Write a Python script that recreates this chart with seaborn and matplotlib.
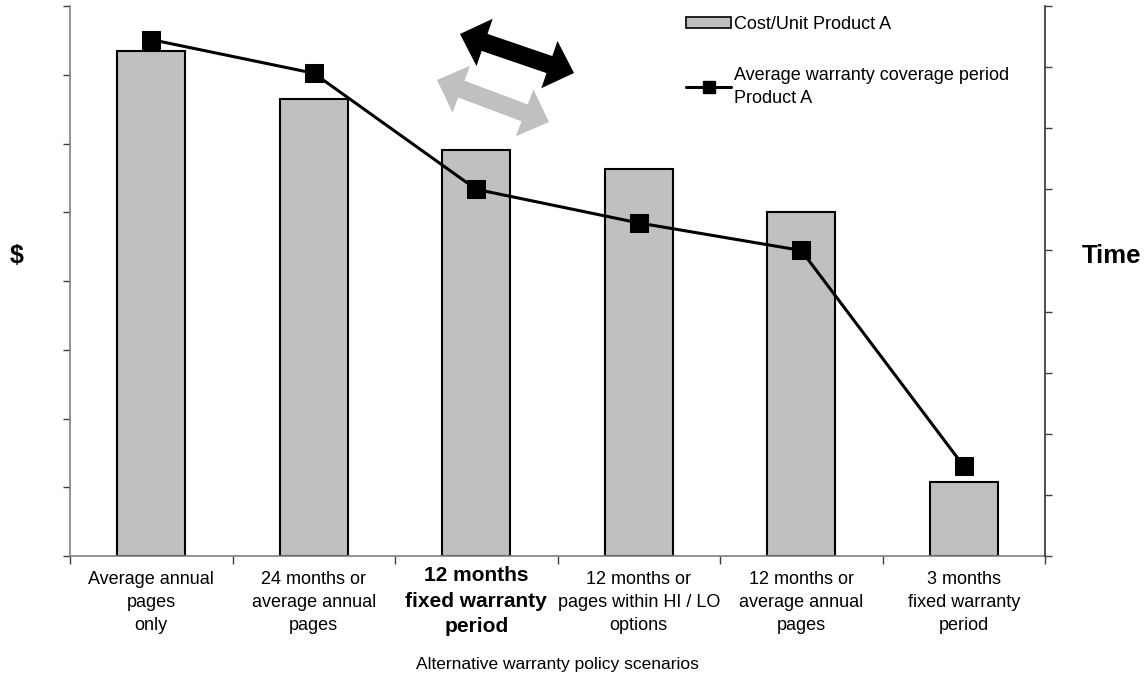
import numpy as np
import pandas as pd
import matplotlib
matplotlib.use("Agg")
import matplotlib.pyplot as plt
import matplotlib.transforms as mtransforms
import seaborn as sns
from matplotlib.patches import Patch, Polygon
from matplotlib.lines import Line2D

# ---- data ----
categories = [
    "Average annual\npages\nonly",
    "24 months or\naverage annual\npages",
    "12 months\nfixed warranty\nperiod",
    "12 months or\npages within HI / LO\noptions",
    "12 months or\naverage annual\npages",
    "3 months\nfixed warranty\nperiod",
]
highlight_index = 2
cost_per_unit = [7.35, 6.65, 5.9, 5.63, 5.0, 1.08]
warranty_period = [8.45, 7.9, 6.0, 5.45, 5.0, 1.47]
bar_label = "Cost/Unit Product A"
line_label = "Average warranty coverage period\nProduct A"
x_title = "Alternative warranty policy scenarios"

sns.set_style("white")
plt.rcParams["font.family"] = ["Liberation Sans", "DejaVu Sans"]
plt.rcParams["text.color"] = "black"
plt.rcParams["axes.labelcolor"] = "black"

W, H = 1144, 681
fig = plt.figure(figsize=(W / 100, H / 100), dpi=100)
ax = fig.add_axes([70 / W, (H - 556) / H, (1045 - 70) / W, 550 / H])

df = pd.DataFrame({"cat": categories, "cost": cost_per_unit, "warr": warranty_period})
sns.barplot(data=df, x="cat", y="cost", color="#c0c0c0", saturation=1,
            edgecolor="black", linewidth=1.5, width=0.42, ax=ax)
ax.set_xlim(-0.5, 5.5)
ax.set_ylim(0, 8)
ax.set_yticks(np.arange(0, 9, 1))
ax.set_yticklabels([])
ax.tick_params(axis="y", direction="out", length=5, width=1, colors="#404040", left=True)

# x ticks: boundaries as tick marks, category names centred under bars
ax.set_xticks(np.arange(-0.5, 6, 1))
ax.set_xticklabels([])
ax.tick_params(axis="x", which="major", direction="out", length=6, width=1, bottom=True, colors="#404040")
trans = mtransforms.blended_transform_factory(ax.transData, ax.transAxes)
for i, cat in enumerate(categories):
    if i == highlight_index:
        ax.text(i, -10 / 550, cat, transform=trans, ha="center", va="top",
                fontsize=15, fontweight="bold", linespacing=1.45, color="black")
    else:
        ax.text(i, -15 / 550, cat, transform=trans, ha="center", va="top",
                fontsize=13, linespacing=1.45, color="black")

ax.set_xlabel("")
fig.text(0.5 * (70 + 1045) / W, 1 - 664 / H, x_title, fontsize=12.5,
         ha="center", va="center", color="black")
ax.set_ylabel("")
for s in ["top", "right"]:
    ax.spines[s].set_visible(False)
ax.spines["left"].set_color("#808080")
ax.spines["bottom"].set_color("#808080")
ax.spines["left"].set_linewidth(1.2)
ax.spines["bottom"].set_linewidth(1.2)

ax2 = ax.twinx()
sns.lineplot(x=np.arange(len(warranty_period)), y=warranty_period, ax=ax2,
             color="black", marker="s", markersize=13, markeredgecolor="black",
             linewidth=2.2)
ax2.set_ylim(0, 9)
ax2.set_xlim(-0.5, 5.5)
ax2.set_yticks(np.arange(0, 10, 1))
ax2.set_yticklabels([])
ax2.set_ylabel("")
ax2.set_xlabel("")
ax2.tick_params(axis="y", direction="out", length=5, width=1, right=True, colors="#404040")
ax2.spines["top"].set_visible(False)
ax2.spines["left"].set_visible(False)
ax2.spines["bottom"].set_visible(False)
ax2.spines["right"].set_color("#303030")
ax2.spines["right"].set_linewidth(1.2)

fig.text(17 / W, 1 - 256 / H, "$", fontsize=18, fontweight="bold", ha="center", va="center", color="black")
fig.text(1112 / W, 1 - 256 / H, "Time", fontsize=18.5, fontweight="bold", ha="center", va="center", color="black")

# legend
handles = [
    Patch(facecolor="#c0c0c0", edgecolor="black", linewidth=1.2),
    Line2D([0], [0], color="black", linewidth=2.2, marker="s", markersize=9),
]
leg = fig.legend(handles, [bar_label, line_label], loc="upper left",
                 bbox_to_anchor=(686 / W, 1 - 16 / H), frameon=False, fontsize=13,
                 handlelength=2.5, handleheight=0.6, handletextpad=0.15,
                 labelspacing=1.9, borderpad=0, borderaxespad=0)
for t in leg.get_texts():
    t.set_color("black")
    t.set_linespacing(1.42)

# decorative double arrows (pixel coordinates, top-left origin)
def double_arrow(p1, p2, color, head_len=26, head_hw=25, body_hw=9):
    p1 = np.array(p1, float)
    p2 = np.array(p2, float)
    d = p2 - p1
    L = np.hypot(*d)
    u = d / L
    n = np.array([-u[1], u[0]])
    pts = [
        p1,
        p1 + head_len * u + head_hw * n,
        p1 + head_len * u + body_hw * n,
        p2 - head_len * u + body_hw * n,
        p2 - head_len * u + head_hw * n,
        p2,
        p2 - head_len * u - head_hw * n,
        p2 - head_len * u - body_hw * n,
        p1 + head_len * u - body_hw * n,
        p1 + head_len * u - head_hw * n,
    ]
    pts = [(x / W, 1 - y / H) for x, y in pts]
    fig.add_artist(Polygon(pts, closed=True, facecolor=color, edgecolor="none",
                           transform=fig.transFigure, zorder=5))

double_arrow((437, 80), (549, 122), "#c0c0c0")
double_arrow((460, 34), (574, 73), "black")

fig.savefig("out.png", dpi=100)
